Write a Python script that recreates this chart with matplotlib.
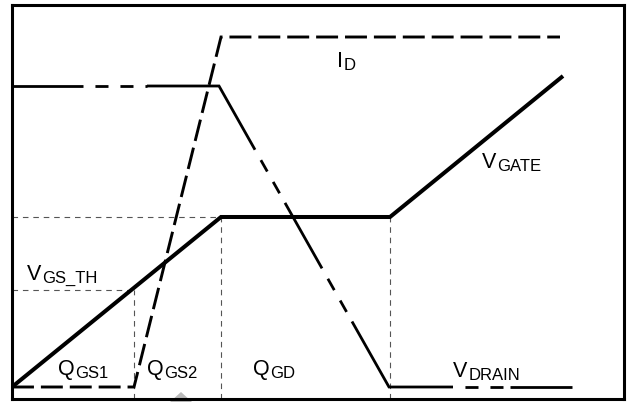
import numpy as np
import matplotlib
matplotlib.use('Agg')
import matplotlib.pyplot as plt
from matplotlib.patches import Polygon

plt.rcParams['font.family'] = ['Liberation Sans', 'DejaVu Sans']
plt.rcParams['lines.scale_dashes'] = False

# gate charge (x) vs level (y), arbitrary units
vgate_q = [0, 209, 378, 551]
vgate_v = [12, 182, 182, 323]

id_q = [0, 122, 209, 548]
id_i = [12, 12, 362, 362]

vdrain_q = [0, 207, 377, 560]
vdrain_v = [313, 313, 12, 12]
# charge ranges where the V_DRAIN trace is drawn broken
vdrain_breaks = [(71, 135), (243, 273), (310, 340), (441, 498)]

# charge boundaries and voltage levels for the guide lines
q_gs1 = 122
q_gs2 = 209
q_gd = 378
v_th = 109
v_plateau = 182

label_main = ['I', 'V', 'V', 'Q', 'Q', 'Q', 'V']
label_sub = ['D', 'GATE', 'GS_TH', 'GS1', 'GS2', 'GD', 'DRAIN']
label_pos = [(325, 332), (470, 231), (15, 119), (46, 24), (135, 24),
             (241, 24), (441, 22)]

fig = plt.figure(figsize=(6.27, 4.04), dpi=100)
ax = fig.add_axes([12 / 627, 5 / 404, 612 / 627, 394 / 404])
ax.set_xlim(0, 612)
ax.set_ylim(0, 394)
ax.set_xticks([])
ax.set_yticks([])
for s in ax.spines.values():
    s.set_linewidth(2.2)

# thin dotted guides
guide = dict(color='#555555', lw=0.8, dashes=(4, 3.5))
ax.plot([0, q_gs2], [v_plateau, v_plateau], **guide)
ax.plot([0, q_gs1], [v_th, v_th], **guide)
ax.plot([q_gs1, q_gs1], [0, v_th], **guide)
ax.plot([q_gs2, q_gs2], [0, v_plateau], **guide)
ax.plot([q_gd, q_gd], [0, v_plateau], **guide)

# I_D
ax.plot(id_q, id_i, color='black', lw=2.1, dashes=(15.8, 5),
        solid_joinstyle='miter', dash_joinstyle='miter')

# V_GATE
ax.plot(vgate_q, vgate_v, color='black', lw=2.9, solid_joinstyle='miter',
        solid_capstyle='butt')

# V_DRAIN, solid with broken stretches
edges = [vdrain_q[0]]
for a, b in vdrain_breaks:
    edges += [a, b]
edges.append(vdrain_q[-1])
for i in range(len(edges) - 1):
    a, b = edges[i], edges[i + 1]
    xs = [a] + [q for q in vdrain_q if a < q < b] + [b]
    ys = np.interp(xs, vdrain_q, vdrain_v)
    if i % 2 == 0:
        ax.plot(xs, ys, color='black', lw=2.0, solid_capstyle='butt',
                solid_joinstyle='miter')
    else:
        ax.plot(xs, ys, color='black', lw=2.0, linestyle=(9.4, (9.4, 8.6)))

# labels
for m, sub, (x, y) in zip(label_main, label_sub, label_pos):
    t = ax.text(x, y, m, fontsize=15.5, va='baseline', ha='left')
    ax.annotate(sub, xy=(1, 0), xycoords=t, xytext=(0.6, -0.8),
                textcoords='offset points', fontsize=12, va='bottom',
                ha='left')

# grey mark under the frame
ax.add_patch(Polygon([(158, -3), (169, 7), (180, -3)], closed=True,
                     color='#bbbbbb', lw=0, clip_on=False, zorder=0.5))

fig.savefig('out.png', dpi=100)
